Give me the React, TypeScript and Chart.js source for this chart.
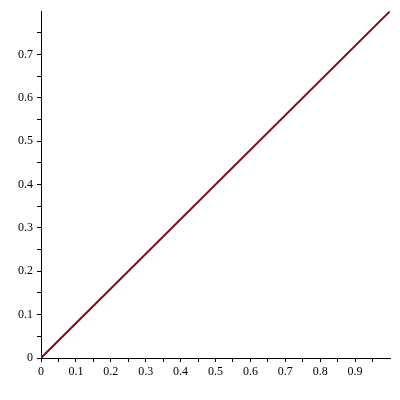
import React, { useEffect, useRef } from "react";
import { Chart, registerables } from "chart.js";

Chart.register(...registerables);

const xValues = [0, 1];
const yValues = [0, 0.8];
const xRange = [0, 1];
const yRange = [0, 0.8];
const tickStep = 0.05;

export default function App() {
  const ref = useRef<HTMLCanvasElement>(null);
  useEffect(() => {
    if (!ref.current) return;
    const label = (max: number) => (v: any) => {
      const n = Math.round(Number(v) * 100);
      if (n % 10 !== 0 || n >= Math.round(max * 100)) return "";
      return String(n / 100);
    };
    const tickCol = (max: number) => (ctx: any) =>
      ctx.tick && Math.round(ctx.tick.value * 100) >= Math.round(max * 100) ? "rgba(0,0,0,0)" : "#000";
    const chart = new Chart(ref.current, {
      type: "line",
      data: {
        datasets: [
          {
            data: xValues.map((x, i) => ({ x, y: yValues[i] })),
            borderColor: "#800a1e",
            borderWidth: 2,
            pointRadius: 0,
            fill: false,
            tension: 0,
          },
        ],
      },
      options: {
        animation: false,
        responsive: false,
        maintainAspectRatio: false,
        layout: { padding: { top: 11, right: 10, left: 0, bottom: 0 } },
        plugins: { legend: { display: false }, tooltip: { enabled: false } },
        scales: {
          x: {
            type: "linear",
            min: xRange[0],
            max: xRange[1],
            afterFit: (s: any) => {
              s.height = 42;
            },
            grid: { drawOnChartArea: false, drawTicks: true, tickLength: 4, color: tickCol(xRange[1]) },
            border: { display: true, color: "#000", width: 1 },
            ticks: {
              stepSize: tickStep,
              autoSkip: false,
              maxRotation: 0,
              padding: 3,
              color: "#000",
              font: { family: "'Liberation Serif', 'Times New Roman', serif", size: 12 },
              callback: label(xRange[1]),
            },
          },
          y: {
            type: "linear",
            min: yRange[0],
            max: yRange[1],
            afterFit: (s: any) => {
              s.width = 41;
            },
            grid: { drawOnChartArea: false, drawTicks: true, tickLength: 4, color: tickCol(yRange[1]) },
            border: { display: true, color: "#000", width: 1 },
            ticks: {
              stepSize: tickStep,
              autoSkip: false,
              padding: 4,
              color: "#000",
              font: { family: "'Liberation Serif', 'Times New Roman', serif", size: 12 },
              callback: label(yRange[1]),
            },
          },
        },
      },
    });
    return () => chart.destroy();
  }, []);
  return (
    <div style={{ position: "fixed", left: 0, top: 0, width: 400, height: 400, background: "#fff" }}>
      <canvas ref={ref} width={400} height={400} style={{ width: 400, height: 400 }} />
    </div>
  );
}
